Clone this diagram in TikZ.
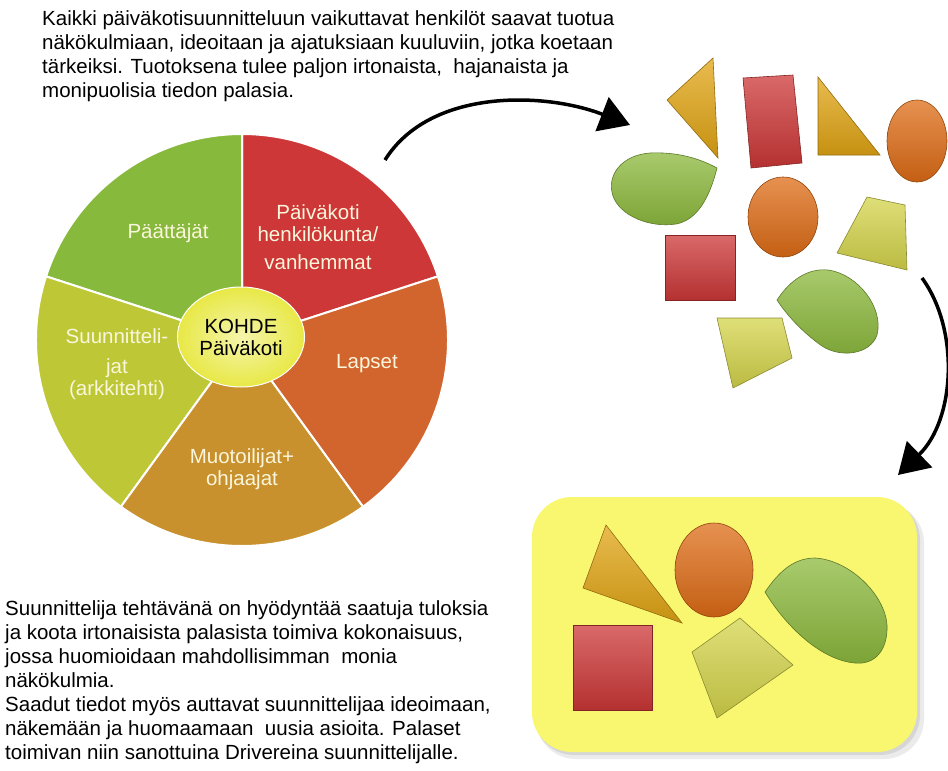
\documentclass[tikz,border=0pt]{standalone}
\usepackage{fontspec}
\setmainfont{Liberation Sans}
\usepackage{tikz}
\usetikzlibrary{arrows.meta}
\usetikzlibrary{shapes}
\usetikzlibrary{positioning}

\definecolor{slicegreen}{RGB}{135,185,60}
\definecolor{slicered}{RGB}{205,55,55}
\definecolor{sliceorange}{RGB}{210,100,45}
\definecolor{slicebrown}{RGB}{200,145,45}
\definecolor{sliceyellow}{RGB}{190,200,55}
\definecolor{hubyellow}{RGB}{232,232,70}
\definecolor{labelcream}{RGB}{250,246,220}
\definecolor{piecegold}{RGB}{225,165,20}
\definecolor{piecered}{RGB}{205,55,55}
\definecolor{pieceorange}{RGB}{222,108,22}
\definecolor{piecegreen}{RGB}{140,185,60}
\definecolor{pieceyellow}{RGB}{212,212,75}
\definecolor{trayyellow}{RGB}{249,246,112}

\tikzset{
  slice/.style={fill=#1, draw=white, line width=2pt},
  slicelabel/.style={text=labelcream, align=center, font=\fontsize{20.5}{22}\selectfont},
  piece/.style={top color=#1!75!white, bottom color=#1!88!black, draw=#1!65!black, line width=0.6pt},
  flowarrow/.style={line width=3.5pt, -{Triangle[length=30pt,width=36pt]}},
  bodytext/.style={align=left, anchor=north west, inner sep=0pt, font=\fontsize{20.5}{24}\selectfont}
}

\begin{document}
\begin{tikzpicture}[x=1pt, y=-1pt]
    \path[use as bounding box] (0, 0) rectangle (948, 771);

    % texts
    \node[bodytext] (toptext) at (42, 10) {Kaikki päiväkotisuunnitteluun vaikuttavat henkilöt saavat tuotua\\
        näkökulmiaan, ideoitaan ja ajatuksiaan kuuluviin, jotka koetaan\\
        tärkeiksi. Tuotoksena tulee paljon irtonaista,\ \ hajanaista ja\\
        monipuolisia tiedon palasia.};
    \node[bodytext] (bottomtext) at (5, 600) {Suunnittelija tehtävänä on hyödyntää saatuja tuloksia\\
        ja koota irtonaisista palasista toimiva kokonaisuus,\\
        jossa huomioidaan mahdollisimman\ \ monia\\
        näkökulmia.\\
        Saadut tiedot myös auttavat suunnittelijaa ideoimaan,\\
        näkemään ja huomaamaan\ \ uusia asioita. Palaset\\
        toimivan niin sanottuina Drivereina suunnittelijalle.};

    % pie
    \coordinate (piecentre) at (242, 340);
    \draw[slice=slicered] (piecentre) -- ++(-18:206) arc[start angle=-18, end angle=-90, radius=206] -- cycle;
    \draw[slice=slicegreen] (piecentre) -- ++(-90:206) arc[start angle=-90, end angle=-162, radius=206] -- cycle;
    \draw[slice=sliceyellow] (piecentre) -- ++(-162:206) arc[start angle=-162, end angle=-234, radius=206] -- cycle;
    \draw[slice=slicebrown] (piecentre) -- ++(-234:206) arc[start angle=-234, end angle=-306, radius=206] -- cycle;
    \draw[slice=sliceorange] (piecentre) -- ++(-306:206) arc[start angle=-306, end angle=-378, radius=206] -- cycle;

    \node[slicelabel] (paattajat) at (168, 233) {Päättäjät};
    \node[slicelabel] (paivakoti) at (318, 237) {Päiväkoti\\henkilökunta/\\[6pt]vanhemmat};
    \node[slicelabel] (lapset) at (367, 364) {Lapset};
    \node[slicelabel] (muotoilijat) at (242, 469) {Muotoilijat+\\ohjaajat};
    \node[slicelabel] (suunnittelijat) at (117, 364) {Suunnitteli-\\[8pt]jat\\(arkkitehti)};

    \node[ellipse, minimum width=126, minimum height=100, inner color=hubyellow!45!white, outer color=hubyellow, draw=white, line width=1pt,
        align=center, font=\fontsize{20.5}{22}\selectfont] (kohde) at (241, 337) {KOHDE\\Päiväkoti};

    % loose pieces
    \draw[piece=piecegold] (667, 100) -- (713, 58) -- (718, 158) -- cycle;
    \draw[piece=piecered] (743, 78) -- (793, 75) -- (802, 163) -- (751, 168) -- cycle;
    \draw[piece=piecegold] (818, 77) -- (880, 155) -- (818, 155) -- cycle;
    \draw[piece=pieceorange] (917, 141) ellipse [x radius=30, y radius=41];
    \draw[piece=piecegreen] (717, 168) .. controls (695, 156) and (672, 152) .. (650, 153)
        .. controls (622, 155) and (606, 175) .. (613, 196) .. controls (620, 216) and (650, 228) .. (676, 224)
        .. controls (698, 220) and (710, 196) .. cycle;
    \draw[piece=piecered] (665, 235) rectangle (735, 300);
    \draw[piece=pieceorange] (783, 217) ellipse [x radius=35, y radius=40];
    \draw[piece=pieceyellow] (867, 197) -- (905, 205) -- (907, 270) -- (837, 253) -- cycle;
    \draw[piece=piecegreen] (777, 300) .. controls (790, 280) and (808, 268) .. (828, 270)
        .. controls (858, 274) and (884, 308) .. (877, 335) .. controls (870, 355) and (840, 358) .. (822, 346)
        .. controls (802, 332) and (786, 314) .. cycle;
    \draw[piece=pieceyellow] (717, 318) -- (782, 318) -- (792, 358) -- (733, 388) -- cycle;

    % tray
    \fill[black!8, rounded corners=40pt] (536, 503) rectangle (924, 759);
    \fill[black!16, rounded corners=40pt] (534, 500) rectangle (920, 755);
    \fill[trayyellow, rounded corners=40pt] (532, 497) rectangle (917, 752);
    \draw[piece=piecegold] (583, 588) -- (606, 525) -- (682, 623) -- cycle;
    \draw[piece=pieceorange] (714, 570) ellipse [x radius=39, y radius=47];
    \draw[piece=piecegreen] (765, 592) .. controls (780, 570) and (795, 558) .. (815, 558)
        .. controls (850, 560) and (885, 595) .. (887, 625) .. controls (888, 650) and (875, 665) .. (855, 663)
        .. controls (820, 660) and (785, 625) .. cycle;
    \draw[piece=piecered] (573, 625) rectangle (652, 710);
    \draw[piece=pieceyellow] (692, 652) -- (740, 618) -- (793, 665) -- (717, 718) -- cycle;

    % arrows
    \coordinate (piefrom) at (385, 160);
    \coordinate (heapto) at (630, 125);
    \coordinate (heapfrom) at (922, 278);
    \coordinate (trayto) at (898, 475);
    \draw[flowarrow] (piefrom) .. controls (430, 88) and (545, 92) .. (heapto);
    \draw[flowarrow] (heapfrom) .. controls (960, 330) and (955, 420) .. (trayto);
\end{tikzpicture}
\end{document}
